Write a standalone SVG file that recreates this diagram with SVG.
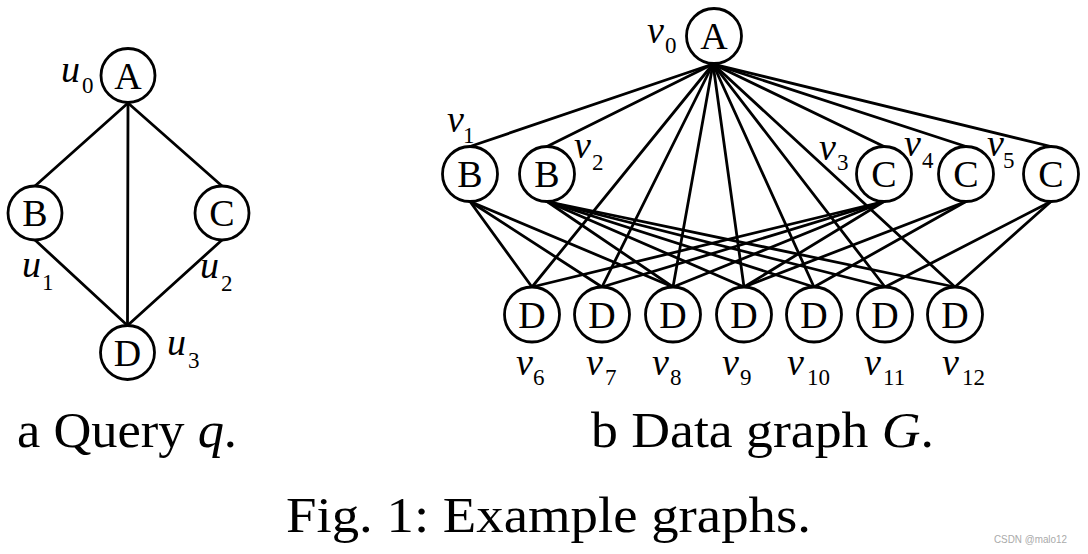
<svg xmlns="http://www.w3.org/2000/svg" width="1088" height="554" viewBox="0 0 1088 554">
<style>
.bg{fill:#fff}
.n circle{fill:#fff;stroke:#000;stroke-width:2.8}
.n text.l{font-family:"Liberation Serif",serif;font-size:38px;text-anchor:middle;fill:#000}
.lab{font-family:"Liberation Serif",serif;fill:#000}
.it{font-style:italic;font-size:38px}
.sub{font-size:23px;font-style:normal}
#edges line{stroke:#000;stroke-width:2.8;stroke-linecap:round}
.cap{font-family:"Liberation Serif",serif;font-size:50px;fill:#000}
.wm{font-family:"Liberation Sans",sans-serif;font-size:11px;fill:#aaa}
</style>
<rect class="bg" width="1088" height="554"/>
<g id="edges">
<!-- query graph -->
<line x1="128" y1="103" x2="35" y2="186"/>
<line x1="128" y1="103" x2="222" y2="186"/>
<line x1="128" y1="103" x2="127.5" y2="325.5"/>
<line x1="35" y1="240" x2="127.5" y2="325.5"/>
<line x1="222" y1="240" x2="127.5" y2="325.5"/>
<!-- data graph: A -->
<line x1="713" y1="64" x2="470" y2="146.5"/>
<line x1="713" y1="64" x2="547" y2="146.5"/>
<line x1="713" y1="64" x2="884" y2="146.5"/>
<line x1="713" y1="64" x2="966" y2="146.5"/>
<line x1="713" y1="64" x2="1051" y2="146.5"/>
<line x1="713" y1="64" x2="532" y2="287"/>
<line x1="713" y1="64" x2="602" y2="287"/>
<line x1="713" y1="64" x2="673" y2="287"/>
<line x1="713" y1="64" x2="744" y2="287"/>
<line x1="713" y1="64" x2="814" y2="287"/>
<line x1="713" y1="64" x2="885" y2="287"/>
<line x1="713" y1="64" x2="955" y2="287"/>
<!-- B1 -->
<line x1="470" y1="201.5" x2="532" y2="287"/>
<line x1="470" y1="201.5" x2="602" y2="287"/>
<line x1="470" y1="201.5" x2="673" y2="287"/>
<!-- B2 -->
<line x1="547" y1="201.5" x2="673" y2="287"/>
<line x1="547" y1="201.5" x2="744" y2="287"/>
<line x1="547" y1="201.5" x2="814" y2="287"/>
<line x1="547" y1="201.5" x2="885" y2="287"/>
<line x1="547" y1="201.5" x2="955" y2="287"/>
<!-- C3 -->
<line x1="884" y1="201.5" x2="532" y2="287"/>
<line x1="884" y1="201.5" x2="602" y2="287"/>
<line x1="884" y1="201.5" x2="673" y2="287"/>
<line x1="884" y1="201.5" x2="744" y2="287"/>
<!-- C4 -->
<line x1="966" y1="201.5" x2="744" y2="287"/>
<line x1="966" y1="201.5" x2="814" y2="287"/>
<!-- C5 -->
<line x1="1051" y1="201.5" x2="885" y2="287"/>
<line x1="1051" y1="201.5" x2="955" y2="287"/>
</g>
<!-- query nodes -->
<g id="u0" class="n"><circle cx="128" cy="75.5" r="27"/><text class="l" x="128" y="88.5">A</text>
<text class="lab"><tspan class="it" x="61" y="82">u</tspan><tspan class="sub" x="82" y="93">0</tspan></text></g>
<g id="u1" class="n"><circle cx="35" cy="213" r="27"/><text class="l" x="35" y="226">B</text>
<text class="lab"><tspan class="it" x="22" y="277">u</tspan><tspan class="sub" x="42" y="290">1</tspan></text></g>
<g id="u2" class="n"><circle cx="222" cy="213" r="27"/><text class="l" x="222" y="226">C</text>
<text class="lab"><tspan class="it" x="200" y="278">u</tspan><tspan class="sub" x="221" y="291">2</tspan></text></g>
<g id="u3" class="n"><circle cx="127.5" cy="352.5" r="27"/><text class="l" x="127.5" y="365.5">D</text>
<text class="lab"><tspan class="it" x="167" y="355">u</tspan><tspan class="sub" x="188" y="368">3</tspan></text></g>
<!-- data nodes -->
<g id="v0" class="n"><circle cx="714" cy="36" r="27.5"/><text class="l" x="714" y="49">A</text>
<text class="lab"><tspan class="it" x="647" y="43">v</tspan><tspan class="sub" x="665" y="53">0</tspan></text></g>
<g id="v1" class="n"><circle cx="470" cy="174" r="27.5"/><text class="l" x="470" y="187">B</text>
<text class="lab"><tspan class="it" x="447" y="132">v</tspan><tspan class="sub" x="463" y="143">1</tspan></text></g>
<g id="v2" class="n"><circle cx="547" cy="174" r="27.5"/><text class="l" x="547" y="187">B</text>
<text class="lab"><tspan class="it" x="574" y="158">v</tspan><tspan class="sub" x="592" y="170">2</tspan></text></g>
<g id="v3" class="n"><circle cx="884" cy="174" r="27.5"/><text class="l" x="884" y="187">C</text>
<text class="lab"><tspan class="it" x="819" y="160">v</tspan><tspan class="sub" x="837" y="170">3</tspan></text></g>
<g id="v4" class="n"><circle cx="966" cy="174" r="27.5"/><text class="l" x="966" y="187">C</text>
<text class="lab"><tspan class="it" x="904" y="156">v</tspan><tspan class="sub" x="922" y="168">4</tspan></text></g>
<g id="v5" class="n"><circle cx="1051" cy="174" r="27.5"/><text class="l" x="1051" y="187">C</text>
<text class="lab"><tspan class="it" x="987" y="156">v</tspan><tspan class="sub" x="1003" y="168">5</tspan></text></g>
<g id="v6" class="n"><circle cx="532" cy="314.5" r="27.5"/><text class="l" x="532" y="327.5">D</text>
<text class="lab"><tspan class="it" x="516" y="375">v</tspan><tspan class="sub" x="533" y="385">6</tspan></text></g>
<g id="v7" class="n"><circle cx="602" cy="314.5" r="27.5"/><text class="l" x="602" y="327.5">D</text>
<text class="lab"><tspan class="it" x="586" y="375">v</tspan><tspan class="sub" x="605" y="385">7</tspan></text></g>
<g id="v8" class="n"><circle cx="673" cy="314.5" r="27.5"/><text class="l" x="673" y="327.5">D</text>
<text class="lab"><tspan class="it" x="652" y="375">v</tspan><tspan class="sub" x="670" y="385">8</tspan></text></g>
<g id="v9" class="n"><circle cx="744" cy="314.5" r="27.5"/><text class="l" x="744" y="327.5">D</text>
<text class="lab"><tspan class="it" x="722" y="375">v</tspan><tspan class="sub" x="740" y="385">9</tspan></text></g>
<g id="v10" class="n"><circle cx="814" cy="314.5" r="27.5"/><text class="l" x="814" y="327.5">D</text>
<text class="lab"><tspan class="it" x="787" y="375">v</tspan><tspan class="sub" x="807" y="385">10</tspan></text></g>
<g id="v11" class="n"><circle cx="885" cy="314.5" r="27.5"/><text class="l" x="885" y="327.5">D</text>
<text class="lab"><tspan class="it" x="864" y="375">v</tspan><tspan class="sub" x="883" y="385">11</tspan></text></g>
<g id="v12" class="n"><circle cx="955" cy="314.5" r="27.5"/><text class="l" x="955" y="327.5">D</text>
<text class="lab"><tspan class="it" x="942" y="375">v</tspan><tspan class="sub" x="962" y="385">12</tspan></text></g>
<!-- captions -->
<text class="cap" x="17" y="447" textLength="220" lengthAdjust="spacingAndGlyphs">a Query <tspan font-style="italic">q</tspan>.</text>
<text class="cap" x="591" y="447" textLength="343" lengthAdjust="spacingAndGlyphs">b Data graph <tspan font-style="italic">G</tspan>.</text>
<text class="cap" x="286" y="532" textLength="525" lengthAdjust="spacingAndGlyphs">Fig. 1: Example graphs.</text>
<text class="wm" x="994" y="543" textLength="73" lengthAdjust="spacingAndGlyphs">CSDN @malo12</text>
</svg>
